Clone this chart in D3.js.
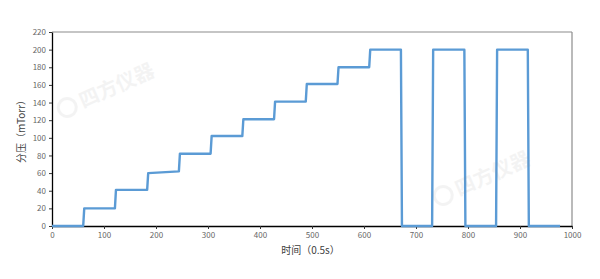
<!DOCTYPE html>
<html>
<head>
<meta charset="utf-8">
<script src="https://cdn.jsdelivr.net/npm/d3@7"></script>
<style>
  body { margin: 0; background: #fff; }
  svg { display: block; }
</style>
</head>
<body>
<div id="chart"></div>
<script>
// time points (0.5s units) and partial pressure (mTorr)
const times = [0, 60, 62, 121, 123, 183, 185, 244, 246, 305, 307, 366, 368, 427, 429, 488,
               490, 549, 551, 610, 612, 671, 673, 731, 733, 793, 795, 854, 856, 915, 917, 977];
const pressure = [0, 0, 20, 20, 41, 41, 60, 62, 82, 82, 102, 102, 121, 121, 141, 141,
                  161, 161, 180, 180, 200, 200, 0, 0, 200, 200, 0, 0, 200, 200, 0, 0];
const xTicks = [0, 100, 200, 300, 400, 500, 600, 700, 800, 900, 1000];
const yTicks = [0, 20, 40, 60, 80, 100, 120, 140, 160, 180, 200, 220];

const W = 600, H = 279;
const margin = {top: 32, right: 28, bottom: 53, left: 52};
const w = W - margin.left - margin.right;
const h = H - margin.top - margin.bottom;

const svg = d3.select("#chart").append("svg")
    .attr("width", W)
    .attr("height", H);

const g = svg.append("g")
    .attr("transform", `translate(${margin.left},${margin.top})`);

const x = d3.scaleLinear().domain([0, 1000]).range([0, w]);
const y = d3.scaleLinear().domain([0, 220]).range([h, 0]);

const font = "'Noto Sans CJK SC', 'Noto Sans', sans-serif";

// watermark
function watermark(cx, cy) {
    const wm = svg.append("g")
        .attr("transform", `translate(${cx},${cy}) rotate(-24)`)
        .style("opacity", 0.09);
    wm.append("circle").attr("cx", -38).attr("cy", 0).attr("r", 9)
        .attr("fill", "none").attr("stroke", "#888").attr("stroke-width", 3);
    wm.append("text")
        .attr("x", -24).attr("y", 7)
        .style("font-family", font)
        .style("font-size", "20px")
        .style("font-weight", "bold")
        .attr("fill", "#888")
        .text("四方仪器");
}
watermark(102, 92);
watermark(478, 180);

// top & right frame (grey)
g.append("line").attr("x1", 0).attr("x2", w).attr("y1", 0).attr("y2", 0)
    .attr("stroke", "#8c8c8c").attr("stroke-width", 1.2);
g.append("line").attr("x1", w).attr("x2", w).attr("y1", 0).attr("y2", h)
    .attr("stroke", "#8c8c8c").attr("stroke-width", 1.2);

// axes
const xAxis = g.append("g")
    .attr("transform", `translate(0,${h})`)
    .call(d3.axisBottom(x).tickValues(xTicks).tickFormat(d3.format("d"))
        .tickSize(3).tickPadding(3).tickSizeOuter(0));
const yAxis = g.append("g")
    .call(d3.axisLeft(y).tickValues(yTicks).tickFormat(d3.format("d"))
        .tickSize(3).tickPadding(3).tickSizeOuter(0));

[xAxis, yAxis].forEach(a => {
    a.select(".domain").attr("stroke", "#000").attr("stroke-width", 1.3);
    a.selectAll(".tick line").attr("stroke", "#333");
    a.selectAll(".tick text")
        .style("font-family", font)
        .style("font-size", "8px")
        .attr("fill", "#666");
});

// line
const pts = times.map((t, i) => [t, pressure[i]]);
g.append("path")
    .datum(pts)
    .attr("fill", "none")
    .attr("stroke", "#5b9bd5")
    .attr("stroke-width", 2.4)
    .attr("stroke-linejoin", "round")
    .attr("d", d3.line().x(d => x(d[0])).y(d => y(d[1])));

// axis titles
svg.append("text")
    .attr("x", margin.left + w * 0.497)
    .attr("y", 254)
    .attr("text-anchor", "middle")
    .style("font-family", font)
    .style("font-size", "10px")
    .attr("fill", "#404040")
    .text("时间（0.5s）");

svg.append("text")
    .attr("transform", `translate(25,${margin.top + h / 2}) rotate(-90)`)
    .attr("text-anchor", "middle")
    .style("font-family", font)
    .style("font-size", "10px")
    .attr("fill", "#404040")
    .text("分压（mTorr）");
</script>
</body>
</html>
